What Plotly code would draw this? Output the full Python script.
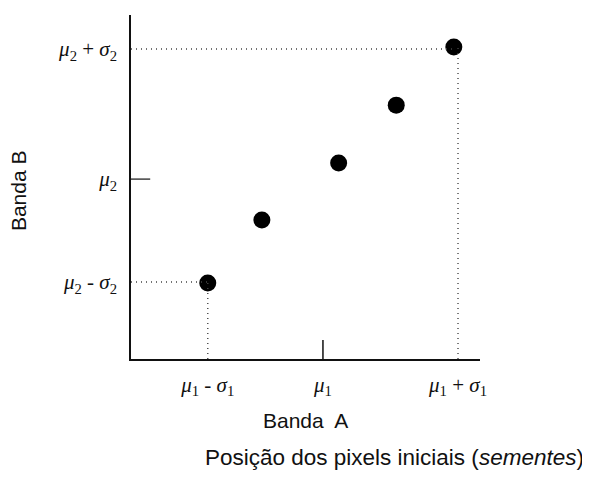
import plotly.graph_objects as go

# Data (abstract units, axis range 0..10)
band_a = [2.2, 3.75, 5.95, 7.6, 9.25]
band_b = [2.21, 4.04, 5.70, 7.38, 9.07]

x_tick_vals = [2.2, 5.5, 9.37]
x_tick_text = ["<i>μ</i><sub>1</sub> - <i>σ</i><sub>1</sub>",
               "<i>μ</i><sub>1</sub>",
               "<i>μ</i><sub>1</sub> + <i>σ</i><sub>1</sub>"]
y_tick_vals = [2.24, 5.23, 9.01]
y_tick_text = ["<i>μ</i><sub>2</sub> - <i>σ</i><sub>2</sub>",
               "<i>μ</i><sub>2</sub>",
               "<i>μ</i><sub>2</sub> + <i>σ</i><sub>2</sub>"]

fig = go.Figure()

dot = dict(color="#444", width=1.4, dash="1px,4px")
# reference dotted lines: bottom-left seed
fig.add_shape(type="line", x0=0, x1=band_a[0], y0=y_tick_vals[0], y1=y_tick_vals[0], line=dot)
fig.add_shape(type="line", x0=x_tick_vals[0], x1=x_tick_vals[0], y0=0, y1=band_b[0], line=dot)
# top-right seed
fig.add_shape(type="line", x0=0, x1=band_a[-1], y0=y_tick_vals[2], y1=y_tick_vals[2], line=dot)
fig.add_shape(type="line", x0=x_tick_vals[2], x1=x_tick_vals[2], y0=0, y1=band_b[-1], line=dot)
# solid tick marks at means
fig.add_shape(type="line", x0=x_tick_vals[1], x1=x_tick_vals[1], y0=0, y1=0.55,
              line=dict(color="#111", width=1.5))
fig.add_shape(type="line", x0=0, x1=0.55, y0=y_tick_vals[1], y1=y_tick_vals[1],
              line=dict(color="#111", width=1.2))

fig.add_trace(go.Scatter(x=band_a, y=band_b, mode="markers",
                         marker=dict(size=17, color="black"), showlegend=False))

tickfont = dict(family="Liberation Serif", size=21, color="#111")
fig.update_xaxes(range=[0, 10], showgrid=False, zeroline=False, showline=True,
                 linecolor="#111", linewidth=1.5, tickvals=x_tick_vals, ticktext=x_tick_text,
                 ticks="", tickfont=tickfont, ticklabelstandoff=6)
fig.update_yaxes(range=[0, 10], showgrid=False, zeroline=False, showline=True,
                 linecolor="#111", linewidth=1.5, tickvals=y_tick_vals, ticktext=y_tick_text,
                 ticks="", tickfont=tickfont, ticklabelstandoff=8)

fig.add_annotation(text="Banda B", xref="paper", yref="paper", x=-0.322, y=0.49,
                   xanchor="center", yanchor="middle", textangle=-90, showarrow=False,
                   font=dict(family="Liberation Sans", size=21, color="#111"))
fig.add_annotation(text="Banda  A", xref="paper", yref="paper", x=0.501, y=-0.178,
                   xanchor="center", yanchor="middle", showarrow=False,
                   font=dict(family="Liberation Sans", size=21, color="#111"))
fig.add_annotation(text="Posição dos pixels iniciais (<i>sementes</i>)", xref="paper", yref="paper",
                   x=0.754, y=-0.287, xanchor="center", yanchor="middle", showarrow=False,
                   font=dict(family="Liberation Sans", size=22.5, color="#111"))

fig.update_layout(width=582, height=475, margin=dict(l=123, r=110, t=7, b=124),
                  plot_bgcolor="white", paper_bgcolor="white")

fig.write_html("out.html")
